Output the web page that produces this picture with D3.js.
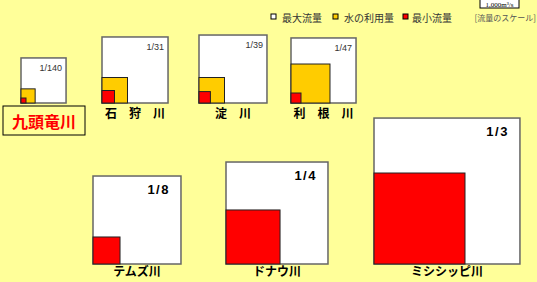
<!DOCTYPE html>
<html>
<head>
<meta charset="utf-8">
<script src="https://cdn.jsdelivr.net/npm/d3@7"></script>
<style>
  body { margin: 0; background: #ffff99; }
  svg { display: block; }
</style>
</head>
<body>
<svg id="chart"></svg>
<script>
// 河川ごとのデータ（面積は相対値）
const rivers = ["九頭竜川", "石狩川", "淀川", "利根川", "テムズ川", "ドナウ川", "ミシシッピ川"];
const riverLabels = ["九頭竜川", "石　狩　川", "淀　川", "利　根　川", "テムズ川", "ドナウ川", "ミシシッピ川"];
const scaleLabels = ["1/140", "1/31", "1/39", "1/47", "1/8", "1/4", "1/3"];
const maxFlow = [20.3, 43.6, 46.2, 42.3, 77.4, 104, 213];
const waterUse = [2.0, 6.5, 6.5, 15.2, null, null, null];
const minFlow = [0.25, 1.56, 1.3, 1.0, 7.3, 29.2, 82.8];

const legendKeys = ["最大流量", "水の利用量", "最小流量"];
const colors = ["#ffffff", "#ffcc00", "#ff0000"];

const width = 537, height = 282;
const svg = d3.select("#chart").attr("width", width).attr("height", height);

// 面積 → 一辺の長さ
const side = d3.scaleSqrt().domain([0, 100]).range([0, 100]);

// パネルの配置（左下の角）
const panels = [
  { x: 21, y: 103, row: 0 }, { x: 102, y: 103, row: 0 },
  { x: 199, y: 103, row: 0 }, { x: 291, y: 103, row: 0 },
  { x: 93, y: 264, row: 1 }, { x: 226, y: 264, row: 1 }, { x: 374, y: 264, row: 1 }
];

const data = rivers.map((r, i) => ({
  name: r, label: riverLabels[i], scale: scaleLabels[i],
  max: maxFlow[i], use: waterUse[i], min: minFlow[i], pos: panels[i]
}));

const jp = "'Noto Sans CJK JP', 'Noto Sans', sans-serif";

const g = svg.selectAll(".river").data(data).enter().append("g")
  .attr("class", "river")
  .attr("transform", d => `translate(${d.pos.x},${d.pos.y})`);

// 最大流量の枠
g.append("rect")
  .attr("x", 0).attr("y", d => -side(d.max))
  .attr("width", d => side(d.max)).attr("height", d => side(d.max))
  .attr("fill", colors[0]).attr("stroke", "#666").attr("stroke-width", 1.5);

// 水の利用量
g.filter(d => d.use != null).append("rect")
  .attr("x", 0).attr("y", d => -side(d.use))
  .attr("width", d => side(d.use)).attr("height", d => side(d.use))
  .attr("fill", colors[1]).attr("stroke", "#222").attr("stroke-width", 1);

// 最小流量
g.append("rect")
  .attr("x", 0).attr("y", d => -side(d.min))
  .attr("width", d => side(d.min)).attr("height", d => side(d.min))
  .attr("fill", colors[2]).attr("stroke", "#222").attr("stroke-width", 1);

// 縮尺
g.append("text")
  .attr("x", d => side(d.max) - (d.pos.row ? 11 : 4))
  .attr("y", d => -side(d.max) + (d.pos.row ? 18 : 13))
  .attr("text-anchor", "end")
  .attr("font-family", "Arial, 'Liberation Sans', sans-serif")
  .attr("font-size", d => d.pos.row ? 13 : 9)
  .attr("font-weight", d => d.pos.row ? "bold" : "normal")
  .attr("letter-spacing", d => d.pos.row ? 1.5 : 0)
  .attr("fill", d => d.pos.row ? "#000" : "#333")
  .text(d => d.scale);

// 河川名
g.filter(d => d.name !== "九頭竜川").append("text")
  .attr("x", d => side(d.max) / 2)
  .attr("y", d => d.pos.row ? 12 : 15)
  .attr("text-anchor", "middle")
  .attr("font-family", jp)
  .attr("font-size", 12).attr("font-weight", "bold")
  .attr("fill", "#000")
  .text(d => d.label);

// 九頭竜川は赤字の枠付き
const kuzu = g.filter(d => d.name === "九頭竜川");
kuzu.append("rect")
  .attr("x", -18).attr("y", 3).attr("width", 82).attr("height", 29)
  .attr("fill", "#ffff99").attr("stroke", "#000").attr("stroke-width", 1);
kuzu.append("text")
  .attr("x", 23).attr("y", 25)
  .attr("text-anchor", "middle")
  .attr("font-family", jp)
  .attr("font-size", 16).attr("font-weight", "bold")
  .attr("fill", "#ff0000")
  .text(d => d.label);

// 凡例
const legendX = d3.scalePoint().domain(legendKeys).range([271, 403]);
const lg = svg.selectAll(".legend").data(legendKeys).enter().append("g")
  .attr("class", "legend")
  .attr("transform", (d, i) => `translate(${legendX(d) + (i === 1 ? -4 : 0)},14)`);
lg.append("rect")
  .attr("width", 5).attr("height", 5)
  .attr("fill", (d, i) => colors[i]).attr("stroke", "#000").attr("stroke-width", 1);
lg.append("text")
  .attr("x", (d, i) => i === 2 ? 9 : 11).attr("y", 8)
  .attr("font-family", jp).attr("font-size", 10)
  .attr("fill", "#333")
  .text(d => d);

svg.append("text")
  .attr("x", 536).attr("y", 21)
  .attr("text-anchor", "end")
  .attr("font-family", jp).attr("font-size", 8)
  .attr("fill", "#555")
  .text("[流量のスケール]");

// 1,000m³/s のスケール枠
svg.append("rect")
  .attr("x", 480).attr("y", -4).attr("width", 39).attr("height", 12)
  .attr("fill", "#fff").attr("stroke", "#000").attr("stroke-width", 1);
svg.append("text")
  .attr("x", 499.5).attr("y", 6.5)
  .attr("text-anchor", "middle")
  .attr("font-family", "'Liberation Serif', serif").attr("font-size", 7)
  .attr("fill", "#000")
  .text("1,000m³/s");
</script>
</body>
</html>
